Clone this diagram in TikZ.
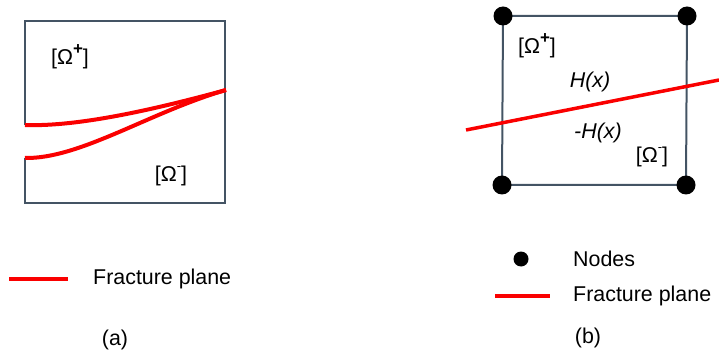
\documentclass[tikz,border=0pt]{standalone}
\usepackage{fontspec}
\setmainfont{Liberation Sans}
\definecolor{boxgray}{RGB}{68,84,100}
\definecolor{fracred}{RGB}{250,0,0}
\newcommand{\omplus}{[Ω\raisebox{0.45em}{\fontsize{17}{17}\selectfont\textbf{+}}]}
\newcommand{\omminus}{[Ω\raisebox{0.5em}{\fontsize{13}{13}\selectfont -}]}
\begin{document}
\begin{tikzpicture}[x=1pt,y=-1pt,
  boxline/.style={draw=boxgray,line width=2pt},
  fracline/.style={draw=fracred,line width=4pt},
  dotnode/.style={circle,fill=black,inner sep=0pt,minimum size=19pt},
  legdot/.style={circle,fill=black,inner sep=0pt,minimum size=15pt},
  txt/.style={font=\fontsize{21.4}{25}\selectfont,inner sep=0pt},
  itxt/.style={font=\fontsize{21.4}{25}\selectfont\itshape,inner sep=0pt}]
\useasboundingbox (0,0) rectangle (719,355);
% ---- (a) ----
\coordinate (a1) at (25,125);
\coordinate (a2) at (25,158);
\coordinate (atl) at (25,21);
\coordinate (atr) at (225,21);
\coordinate (abr) at (225,203);
\coordinate (abl) at (25,203);
\coordinate (tip) at (226,90);
\draw[boxline] (a1) -- (atl) -- (atr) -- (abr) -- (abl) -- (a2);
\draw[fracline] (a1) .. controls (80,127) and (160,108) .. (tip);
\draw[fracline] (a2) .. controls (80,159) and (150,112) .. (tip);
\node[txt] (ap) at (70,57) {\omplus};
\node[txt] (am) at (171,176) {\omminus};
% legend (a)
\coordinate (la1) at (9,279);
\coordinate (la2) at (68,279);
\draw[fracline] (la1) -- (la2);
\node[txt,anchor=west] (lfa) at (93,279) {Fracture plane};
\node[txt] (capa) at (115,340) {(a)};
% ---- (b) ----
\coordinate (btl) at (503,16);
\coordinate (btr) at (687,16);
\coordinate (bbr) at (686,185);
\coordinate (bbl) at (502,185);
\draw[boxline] (btl) -- (btr) -- (bbr) -- (bbl) -- cycle;
\coordinate (f1) at (466,130);
\coordinate (f2) at (719,80);
\draw[fracline,line width=3.5pt] (f1) -- (f2);
\node[dotnode] (ntl) at (btl) {};
\node[dotnode] (ntr) at (btr) {};
\node[dotnode] (nbr) at (bbr) {};
\node[dotnode] (nbl) at (bbl) {};
\node[txt] (bp) at (537,46) {\omplus};
\node[itxt] (h1) at (590,82) {H(x)};
\node[itxt] (h2) at (598,133) {-H(x)};
\node[txt] (bm) at (652,157) {\omminus};
% legend (b)
\node[legdot] (ld) at (521,259) {};
\node[txt,anchor=west] (lnodes) at (573,259) {Nodes};
\coordinate (lb1) at (495,296);
\coordinate (lb2) at (550,296);
\draw[fracline,line width=3.5pt] (lb1) -- (lb2);
\node[txt,anchor=west] (lfb) at (573,296) {Fracture plane};
\node[txt] (capb) at (588,338) {(b)};
\end{tikzpicture}
\end{document}
